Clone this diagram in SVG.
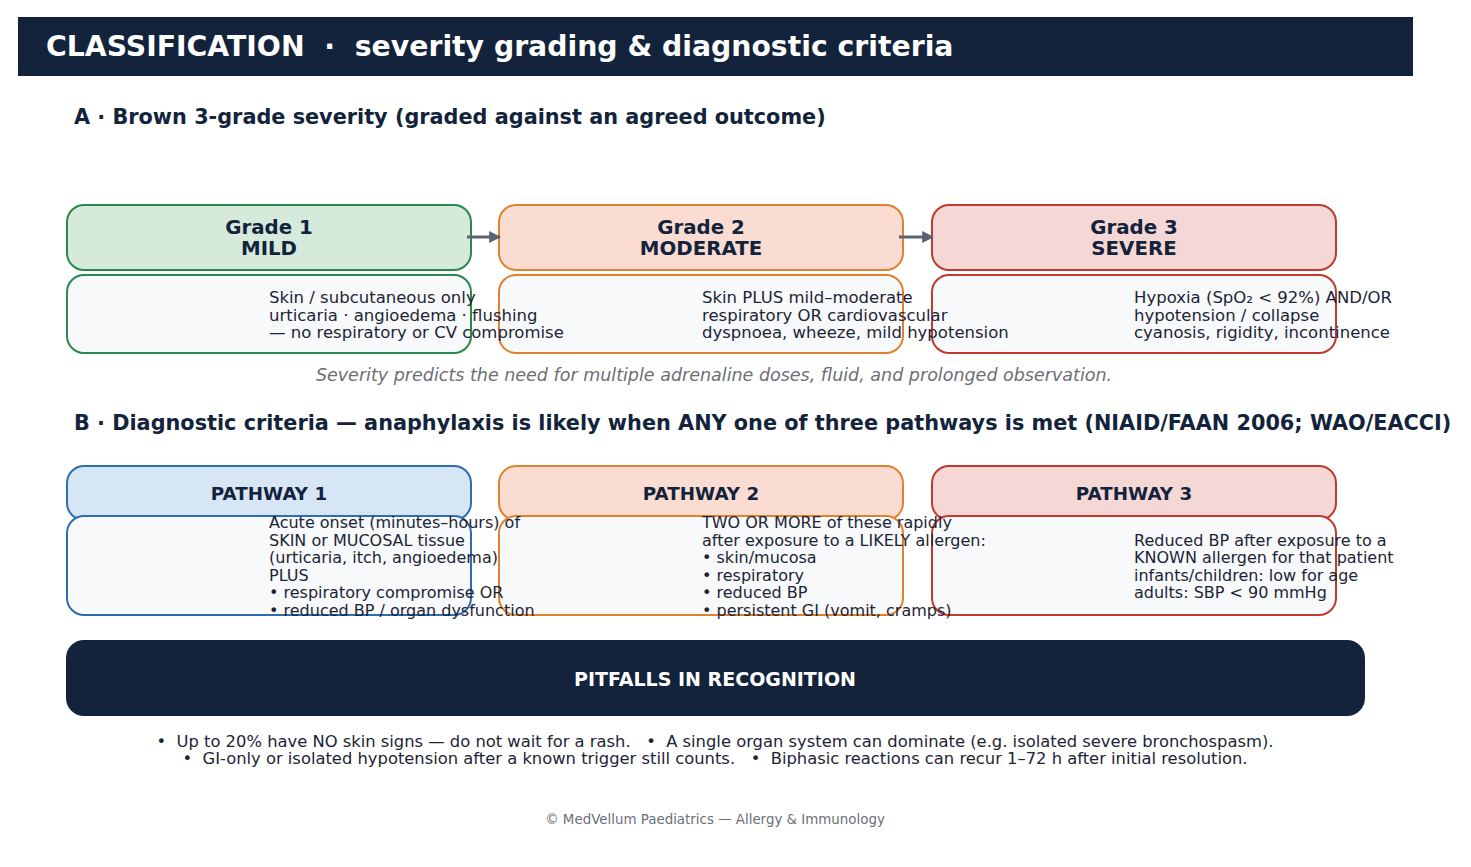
<svg xmlns="http://www.w3.org/2000/svg" width="1471" height="867" viewBox="0 0 1471 867">
<defs>
<marker id="arr" viewBox="0 0 10 10" refX="9" refY="5" markerWidth="4" markerHeight="4" orient="auto" markerUnits="strokeWidth"><path d="M0,0 L10,5 L0,10 z" fill="#5a6472"/></marker>
<style>
text{font-family:"DejaVu Sans","Verdana",sans-serif;}
.hd{font-weight:bold;fill:#13233b;font-size:20.8px;}
.ttl{font-weight:bold;font-size:19.8px;fill:#13233b;text-anchor:middle;}
.pt{font-weight:bold;font-size:18.3px;fill:#13233b;text-anchor:middle;}
.body{font-size:16.5px;fill:#1c2535;}
.pbody{font-size:16px;fill:#1c2535;}
.note{font-size:16.35px;fill:#1c2535;text-anchor:middle;}
.bx{stroke-width:2;}
.bodybox{fill:#f7f9fb;stroke-width:2;}
.g{stroke:#2a874d;} .gf{fill:#d5eadb;}
.o{stroke:#e0822d;} .of{fill:#fadcd2;}
.r{stroke:#c03a2f;} .rf{fill:#f5d8d5;}
.b{stroke:#2e6db4;} .bf{fill:#d6e6f5;}
.conn{stroke:#5a6472;stroke-width:3;fill:none;}
</style>
</defs>
<rect width="1471" height="867" fill="#ffffff"/>
<g id="header">
<rect x="18" y="17" width="1395" height="59" fill="#13233b"/>
<text x="46" y="56" font-size="28.3" font-weight="bold" fill="#ffffff" xml:space="preserve">CLASSIFICATION  ·  severity grading &amp; diagnostic criteria</text>
</g>
<g id="sectionA">
<text class="hd" x="74" y="124">A · Brown 3-grade severity (graded against an agreed outcome)</text>
</g>
<g id="grade1">
<rect class="bx g gf" x="67" y="205" width="404" height="65" rx="17"/>
<rect class="bodybox g" x="67" y="275" width="404" height="78" rx="17"/>
</g>
<g id="grade2">
<rect class="bx o of" x="499" y="205" width="404" height="65" rx="17"/>
<rect class="bodybox o" x="499" y="275" width="404" height="78" rx="17"/>
</g>
<g id="grade3">
<rect class="bx r rf" x="932" y="205" width="404" height="65" rx="17"/>
<rect class="bodybox r" x="932" y="275" width="404" height="78" rx="17"/>
</g>
<g id="connectors">
<line class="conn" x1="467" y1="237" x2="500" y2="237" marker-end="url(#arr)"/>
<line class="conn" x1="899" y1="237" x2="933" y2="237" marker-end="url(#arr)"/>
</g>
<g id="grade1-text">
<text class="ttl" x="269" y="234">Grade 1</text>
<text class="ttl" x="269" y="255">MILD</text>
<text class="body" x="269" y="303">Skin / subcutaneous only</text>
<text class="body" x="269" y="320.5">urticaria · angioedema · flushing</text>
<text class="body" x="269" y="338">— no respiratory or CV compromise</text>
</g>
<g id="grade2-text">
<text class="ttl" x="701" y="234">Grade 2</text>
<text class="ttl" x="701" y="255">MODERATE</text>
<text class="body" x="702" y="303">Skin PLUS mild–moderate</text>
<text class="body" x="702" y="320.5">respiratory OR cardiovascular</text>
<text class="body" x="702" y="338">dyspnoea, wheeze, mild hypotension</text>
</g>
<g id="grade3-text">
<text class="ttl" x="1134" y="234">Grade 3</text>
<text class="ttl" x="1134" y="255">SEVERE</text>
<text class="body" x="1134" y="303">Hypoxia (SpO₂ &lt; 92%) AND/OR</text>
<text class="body" x="1134" y="320.5">hypotension / collapse</text>
<text class="body" x="1134" y="338">cyanosis, rigidity, incontinence</text>
</g>
<g id="caption">
<text x="714" y="381" font-size="17.5" font-style="italic" fill="#6b6f76" text-anchor="middle">Severity predicts the need for multiple adrenaline doses, fluid, and prolonged observation.</text>
</g>
<g id="sectionB">
<text class="hd" x="74" y="430">B · Diagnostic criteria — anaphylaxis is likely when ANY one of three pathways is met (NIAID/FAAN 2006; WAO/EACCI)</text>
</g>
<g id="pathway1">
<rect class="bx b bf" x="67" y="466" width="404" height="54" rx="17"/>
<rect class="bodybox b" x="67" y="516" width="404" height="99" rx="17"/>
</g>
<g id="pathway2">
<rect class="bx o of" x="499" y="466" width="404" height="54" rx="17"/>
<rect class="bodybox o" x="499" y="516" width="404" height="99" rx="17"/>
</g>
<g id="pathway3">
<rect class="bx r rf" x="932" y="466" width="404" height="54" rx="17"/>
<rect class="bodybox r" x="932" y="516" width="404" height="99" rx="17"/>
</g>
<g id="pathway1-text">
<text class="pt" x="269" y="500">PATHWAY 1</text>
<text class="pbody" x="269" y="528">Acute onset (minutes–hours) of</text>
<text class="pbody" x="269" y="545.5">SKIN or MUCOSAL tissue</text>
<text class="pbody" x="269" y="563">(urticaria, itch, angioedema)</text>
<text class="pbody" x="269" y="580.5">PLUS</text>
<text class="pbody" x="269" y="598">• respiratory compromise OR</text>
<text class="pbody" x="269" y="615.5">• reduced BP / organ dysfunction</text>
</g>
<g id="pathway2-text">
<text class="pt" x="701" y="500">PATHWAY 2</text>
<text class="pbody" x="702" y="528">TWO OR MORE of these rapidly</text>
<text class="pbody" x="702" y="545.5">after exposure to a LIKELY allergen:</text>
<text class="pbody" x="702" y="563">• skin/mucosa</text>
<text class="pbody" x="702" y="580.5">• respiratory</text>
<text class="pbody" x="702" y="598">• reduced BP</text>
<text class="pbody" x="702" y="615.5">• persistent GI (vomit, cramps)</text>
</g>
<g id="pathway3-text">
<text class="pt" x="1134" y="500">PATHWAY 3</text>
<text class="pbody" x="1134" y="545.5">Reduced BP after exposure to a</text>
<text class="pbody" x="1134" y="563">KNOWN allergen for that patient</text>
<text class="pbody" x="1134" y="580.5">infants/children: low for age</text>
<text class="pbody" x="1134" y="598">adults: SBP &lt; 90 mmHg</text>
</g>
<g id="pitfalls">
<rect x="66" y="640" width="1299" height="76" rx="18" fill="#13233b"/>
<text x="715" y="686" font-size="19" font-weight="bold" fill="#ffffff" text-anchor="middle">PITFALLS IN RECOGNITION</text>
<text class="note" x="715" y="746.5" xml:space="preserve">•  Up to 20% have NO skin signs — do not wait for a rash.   •  A single organ system can dominate (e.g. isolated severe bronchospasm).</text>
<text class="note" x="715" y="763.5" xml:space="preserve">•  GI-only or isolated hypotension after a known trigger still counts.   •  Biphasic reactions can recur 1–72 h after initial resolution.</text>
</g>
<g id="footer">
<text x="715" y="824" font-size="13.4" fill="#6b6f76" text-anchor="middle">© MedVellum Paediatrics — Allergy &amp; Immunology</text>
</g>
</svg>
